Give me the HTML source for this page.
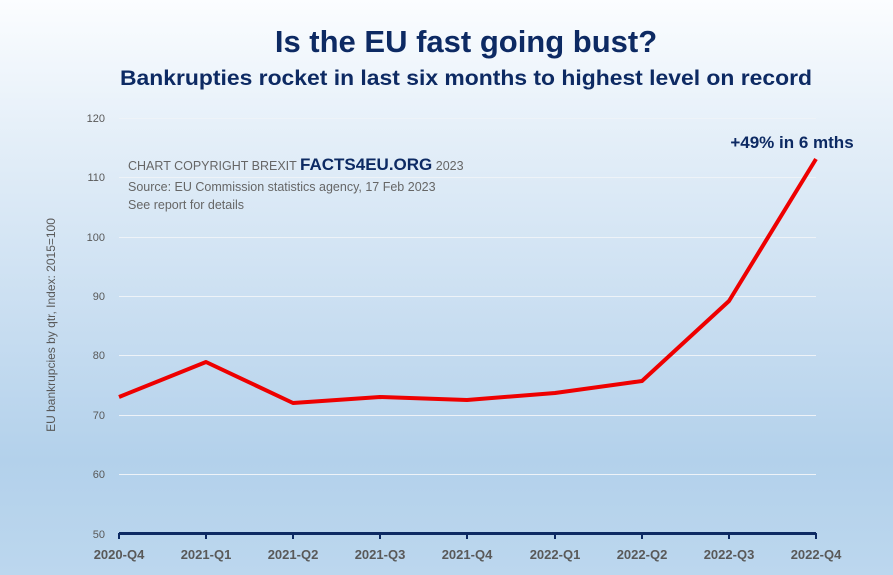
<!DOCTYPE html>
<html><head><style>
html,body{margin:0;padding:0;}
body{width:893px;height:575px;overflow:hidden;background:linear-gradient(180deg,#fbfdff 0%,#e3eef8 25%,#c9def1 55%,#b3d1eb 80%,#bcd7ee 100%);font-family:"Liberation Sans",sans-serif;}
</style></head><body>
<svg width="893" height="575" viewBox="0 0 893 575" xmlns="http://www.w3.org/2000/svg" style="position:absolute;left:0;top:0">
<text x="466" y="52" text-anchor="middle" font-family="Liberation Sans, sans-serif" font-weight="bold" font-size="31" fill="#0d2a63">Is the EU fast going bust?</text>
<text x="466" y="85" text-anchor="middle" font-family="Liberation Sans, sans-serif" font-weight="bold" font-size="21.5" fill="#0d2a63" textLength="692" lengthAdjust="spacingAndGlyphs">Bankrupties rocket in last six months to highest level on record</text>
<g stroke="#eef3f8" stroke-width="1">
<line x1="119" x2="816" y1="118.5" y2="118.5"/>
<line x1="119" x2="816" y1="177.5" y2="177.5"/>
<line x1="119" x2="816" y1="237.5" y2="237.5"/>
<line x1="119" x2="816" y1="296.5" y2="296.5"/>
<line x1="119" x2="816" y1="355.5" y2="355.5"/>
<line x1="119" x2="816" y1="415.5" y2="415.5"/>
<line x1="119" x2="816" y1="474.5" y2="474.5"/>
</g>
<g font-family="Liberation Sans, sans-serif" font-size="11" fill="#595959" text-anchor="end">
<text x="105" y="122">120</text><text x="105" y="181">110</text><text x="105" y="241">100</text>
<text x="105" y="300">90</text><text x="105" y="359">80</text><text x="105" y="419">70</text>
<text x="105" y="478">60</text><text x="105" y="538">50</text>
</g>
<text transform="translate(55,325) rotate(-90)" text-anchor="middle" font-family="Liberation Sans, sans-serif" font-size="12" fill="#595959">EU bankrupcies by qtr, Index: 2015=100</text>
<text x="128" y="170" font-family="Liberation Sans, sans-serif" font-size="12.5" fill="#666"><tspan>CHART COPYRIGHT BREXIT </tspan><tspan font-weight="bold" font-size="17" fill="#0d2a63">FACTS4EU.ORG</tspan><tspan> 2023</tspan></text>
<text x="128" y="191" font-family="Liberation Sans, sans-serif" font-size="12.5" fill="#666">Source: EU Commission statistics agency, 17 Feb 2023</text>
<text x="128" y="209" font-family="Liberation Sans, sans-serif" font-size="12.5" fill="#666">See report for details</text>
<text x="792" y="148" text-anchor="middle" font-family="Liberation Sans, sans-serif" font-weight="bold" font-size="17" fill="#0d2a63">+49% in 6 mths</text>
<line x1="119" x2="816" y1="533.5" y2="533.5" stroke="#0d2a63" stroke-width="3"/>
<g stroke="#0d2a63" stroke-width="2">
<line x1="119" x2="119" y1="533" y2="539"/><line x1="206" x2="206" y1="533" y2="539"/><line x1="293" x2="293" y1="533" y2="539"/>
<line x1="380" x2="380" y1="533" y2="539"/><line x1="467" x2="467" y1="533" y2="539"/><line x1="555" x2="555" y1="533" y2="539"/>
<line x1="642" x2="642" y1="533" y2="539"/><line x1="729" x2="729" y1="533" y2="539"/><line x1="816" x2="816" y1="533" y2="539"/>
</g>
<g font-family="Liberation Sans Narrow, Liberation Sans, sans-serif" font-weight="bold" font-size="13" fill="#595959" text-anchor="middle">
<text x="119" y="559">2020-Q4</text><text x="206" y="559">2021-Q1</text><text x="293" y="559">2021-Q2</text>
<text x="380" y="559">2021-Q3</text><text x="467" y="559">2021-Q4</text><text x="555" y="559">2022-Q1</text>
<text x="642" y="559">2022-Q2</text><text x="729" y="559">2022-Q3</text><text x="816" y="559">2022-Q4</text>
</g>
<polyline fill="none" stroke="#ee0000" stroke-width="4" stroke-linejoin="round" points="119,397 206,362 293,403 380,397 467,400 555,393 642,381 729,301 816,159"/>
</svg>
</body></html>
